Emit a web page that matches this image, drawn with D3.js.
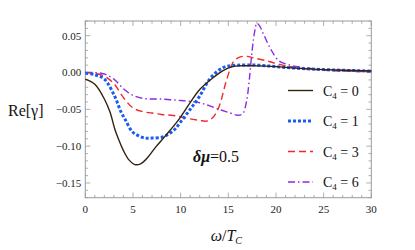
<!DOCTYPE html>
<html>
<head>
<meta charset="utf-8">
<script src="https://cdn.jsdelivr.net/npm/d3@7"></script>
<style>
  body { margin: 0; background: #fff; }
  svg text { font-family: "Liberation Serif", "Tinos", "DejaVu Serif", serif; }
</style>
</head>
<body>
<div id="chart"></div>
<script>
const xC0 = [0, 1, 2, 2.6, 3.1, 3.5, 4, 4.6, 5.2, 5.8, 6.5, 7.4, 8.4, 9.8, 11, 12, 13.4, 14.5, 15.2, 16, 18, 20, 22, 25, 30];
const yC0 = [-0.009, -0.016, -0.036, -0.054, -0.077, -0.091, -0.106, -0.119, -0.125, -0.124, -0.116, -0.101, -0.086, -0.064, -0.041, -0.023, -0.007, 0.003, 0.007, 0.009, 0.009, 0.008, 0.006, 0.004, 0.002];

const xC1 = [0, 1, 2, 3, 3.8, 4.2, 4.9, 5.6, 6.3, 7, 8, 8.7, 9.4, 10, 11, 12, 13.1, 14.5, 15.9, 18, 20, 22, 25, 30];
const yC1 = [-0.001, -0.003, -0.009, -0.030, -0.055, -0.064, -0.080, -0.086, -0.089, -0.089, -0.088, -0.084, -0.077, -0.067, -0.050, -0.032, -0.008, 0.007, 0.010, 0.010, 0.008, 0.006, 0.004, 0.002];

const xC3 = [0, 1, 2, 3, 4, 5, 6, 7, 8, 9, 10, 11, 12, 12.7, 13.3, 13.8, 14.2, 14.5, 14.8, 15.2, 15.6, 16.2, 17, 17.6, 19, 20.4, 22, 24, 27, 30];
const yC3 = [0, -0.001, -0.005, -0.015, -0.034, -0.048, -0.053, -0.055, -0.057, -0.058, -0.060, -0.063, -0.065, -0.066, -0.062, -0.053, -0.040, -0.025, -0.011, 0.005, 0.016, 0.021, 0.022, 0.020, 0.016, 0.011, 0.007, 0.004, 0.002, 0.001];

const xC6 = [0, 1, 2, 3, 4, 5, 6, 7, 8, 9, 10, 11, 12, 13, 14, 15, 16, 16.5, 16.9, 17.2, 17.5, 17.8, 18, 18.3, 18.7, 19.4, 20.3, 21.5, 22.8, 24, 26.4, 30];
const yC6 = [0, 0, -0.002, -0.009, -0.022, -0.031, -0.035, -0.036, -0.036, -0.037, -0.038, -0.039, -0.041, -0.045, -0.050, -0.054, -0.058, -0.056, -0.040, -0.010, 0.030, 0.058, 0.067, 0.063, 0.052, 0.033, 0.016, 0.010, 0.007, 0.005, 0.003, 0.002];

const legendLabels = ['0', '1', '3', '6'];
const xTicks = [0, 5, 10, 15, 20, 25, 30];
const yTicks = [0.05, 0, -0.05, -0.10, -0.15];

const width = 415, height = 250;
const margin = {top: 21, right: 43.7, bottom: 52.3, left: 85.3};

const xScale = d3.scaleLinear()
  .domain([0, 30])
  .range([margin.left, width - margin.right]);

const yScale = d3.scaleLinear()
  .domain([-0.17, 0.07])
  .range([height - margin.bottom, margin.top]);

const svg = d3.select('#chart')
  .append('svg')
    .attr('width', width)
    .attr('height', height);

svg.append('rect')
  .attr('width', width)
  .attr('height', height)
  .attr('fill', '#fff');

const frameColor = '#9a9a9a';
const x0 = xScale.range()[0], x1 = xScale.range()[1];
const y0 = yScale.range()[0], y1 = yScale.range()[1];

// minor + major ticks on all four sides (inward)
const xMinor = d3.range(0, 31, 1);
const yMinor = d3.range(-17, 8, 1).map((d) => d / 100);
const ticks = svg.append('g').attr('stroke', frameColor).attr('stroke-width', 0.8);

xMinor.forEach((v) => {
  const len = v % 5 === 0 ? 5 : 2.8;
  const px = xScale(v);
  ticks.append('line').attr('x1', px).attr('x2', px).attr('y1', y0).attr('y2', y0 - len);
  ticks.append('line').attr('x1', px).attr('x2', px).attr('y1', y1).attr('y2', y1 + len);
});
yMinor.forEach((v) => {
  const major = Math.round(v * 100) % 5 === 0;
  const len = major ? 5 : 2.8;
  const py = yScale(v);
  ticks.append('line').attr('x1', x0).attr('x2', x0 + len).attr('y1', py).attr('y2', py);
  ticks.append('line').attr('x1', x1).attr('x2', x1 - len).attr('y1', py).attr('y2', py);
});

svg.append('rect')
  .attr('x', x0).attr('y', y1)
  .attr('width', x1 - x0).attr('height', y0 - y1)
  .attr('fill', 'none')
  .attr('stroke', frameColor)
  .attr('stroke-width', 1);

// tick labels
svg.append('g').selectAll('text')
  .data(xTicks)
  .join('text')
    .attr('x', (d) => xScale(d))
    .attr('y', y0 + 15)
    .attr('text-anchor', 'middle')
    .attr('font-size', 11)
    .attr('fill', '#222')
    .text((d) => d);

svg.append('g').selectAll('text')
  .data(yTicks)
  .join('text')
    .attr('x', x0 - 4)
    .attr('y', (d) => yScale(d) + 3.8)
    .attr('text-anchor', 'end')
    .attr('font-size', 11)
    .attr('fill', '#222')
    .text((d) => (d < 0 ? '\u2212' : '') + Math.abs(d).toFixed(2));

// axis labels
svg.append('text')
  .attr('x', 8)
  .attr('y', 116)
  .attr('font-size', 16)
  .attr('fill', '#111')
  .text('Re[\u03b3]');

const xl = svg.append('text')
  .attr('x', xScale(15) - 2)
  .attr('y', 241)
  .attr('text-anchor', 'middle')
  .attr('font-size', 16)
  .attr('fill', '#111');
xl.append('tspan').attr('font-style', 'italic').text('\u03c9');
xl.append('tspan').text('/');
xl.append('tspan').attr('font-style', 'italic').text('T');
xl.append('tspan').attr('font-style', 'italic').attr('font-size', 10).attr('dy', 3).text('C');

const ann = svg.append('text')
  .attr('x', 193)
  .attr('y', 162)
  .attr('font-size', 16)
  .attr('fill', '#111');
ann.append('tspan').attr('font-weight', 'bold').attr('font-style', 'italic').text('\u03b4\u03bc');
ann.append('tspan').text('=0.5');

// curves
const series = [
  {xs: xC0, ys: yC0, color: '#34210f', width: 1.4, dash: null},
  {xs: xC1, ys: yC1, color: '#1a5cf0', width: 3, dash: '3,2'},
  {xs: xC3, ys: yC3, color: '#f02a2a', width: 1.4, dash: '7,4'},
  {xs: xC6, ys: yC6, color: '#8a2be2', width: 1.4, dash: '7,3,1.5,3'}
];

const line = d3.line()
  .x((d) => xScale(d[0]))
  .y((d) => yScale(d[1]))
  .curve(d3.curveCatmullRom.alpha(0.5));

const plot = svg.append('g');
series.slice().reverse().forEach((s) => {
  plot.append('path')
    .datum(s.xs.map((x, i) => [x, s.ys[i]]))
    .attr('fill', 'none')
    .attr('stroke', s.color)
    .attr('stroke-width', s.width)
    .attr('stroke-dasharray', s.dash)
    .attr('d', line);
});

// legend
const legend = svg.append('g');
series.forEach((s, i) => {
  const ly = 90.5 + i * 30.5;
  legend.append('line')
    .attr('x1', 288).attr('x2', 313)
    .attr('y1', ly).attr('y2', ly)
    .attr('stroke', s.color)
    .attr('stroke-width', s.width)
    .attr('stroke-dasharray', s.dash);
  const t = legend.append('text')
    .attr('x', 323)
    .attr('y', ly + 5)
    .attr('font-size', 14)
    .attr('fill', '#111');
  t.append('tspan').text('C');
  t.append('tspan').attr('font-size', 9).attr('dy', 3).text('4');
  t.append('tspan').attr('dy', -3).text(' = ' + legendLabels[i]);
});
</script>
</body>
</html>
